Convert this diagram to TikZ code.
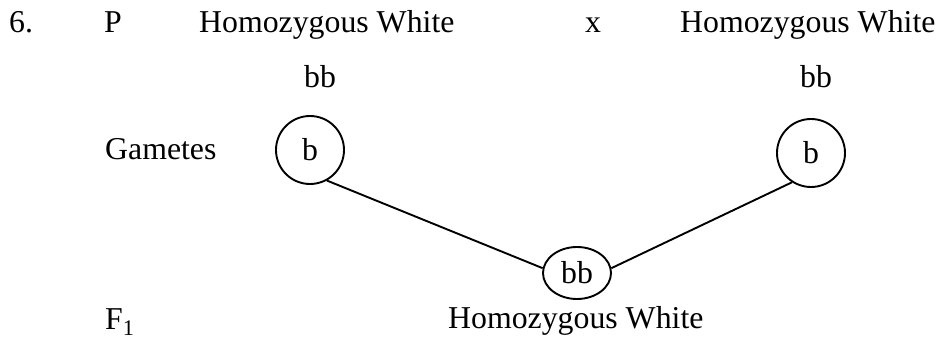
\documentclass[tikz,border=0pt]{standalone}
\usepackage{fontspec}
\setmainfont{Liberation Serif}
\usepackage{tikz}
\usetikzlibrary{shapes.geometric}
\tikzset{
  lbl/.style = {anchor=base west, inner sep=0pt, font=\fontsize{31.8}{38}\selectfont},
  gam_n/.style = {circle, draw, line width=1.9pt, minimum size=68pt, inner sep=0pt, font=\fontsize{31.8}{38}\selectfont},
  zyg_n/.style = {ellipse, draw, line width=1.9pt, minimum width=68pt, minimum height=52pt, inner sep=0pt, font=\fontsize{31.8}{38}\selectfont},
  cross/.style = {line width=1.9pt}
}

\begin{document}
\begin{tikzpicture}[x=1pt, y=-1pt]
    \useasboundingbox (0,0) rectangle (940,339);
    \node[lbl] (num) at (9,33) {6.};
    \node[lbl] (gen_p) at (104,33) {P};
    \node[lbl] (par_a) at (199,33) {Homozygous White};
    \node[lbl] (times) at (585,33) {x};
    \node[lbl] (par_b) at (680,33) {Homozygous White};
    \node[lbl] (geno_a) at (304,88) {bb};
    \node[lbl] (geno_b) at (800,88) {bb};
    \node[lbl] (gam) at (105,160) {Gametes};
    \node[gam_n] (lgam) at (310,150) {b};
    \node[gam_n] (rgam) at (811,153) {b};
    \node[zyg_n] (zyg) at (577,273) {bb};
    \node[lbl] (gen_f) at (105,329) {F\textsubscript{1}};
    \node[lbl] (off) at (448,328) {Homozygous White};
    \draw[cross] (lgam.299) -- (zyg.172);
    \draw[cross] (rgam.237) -- (zyg.8);
\end{tikzpicture}
\end{document}
